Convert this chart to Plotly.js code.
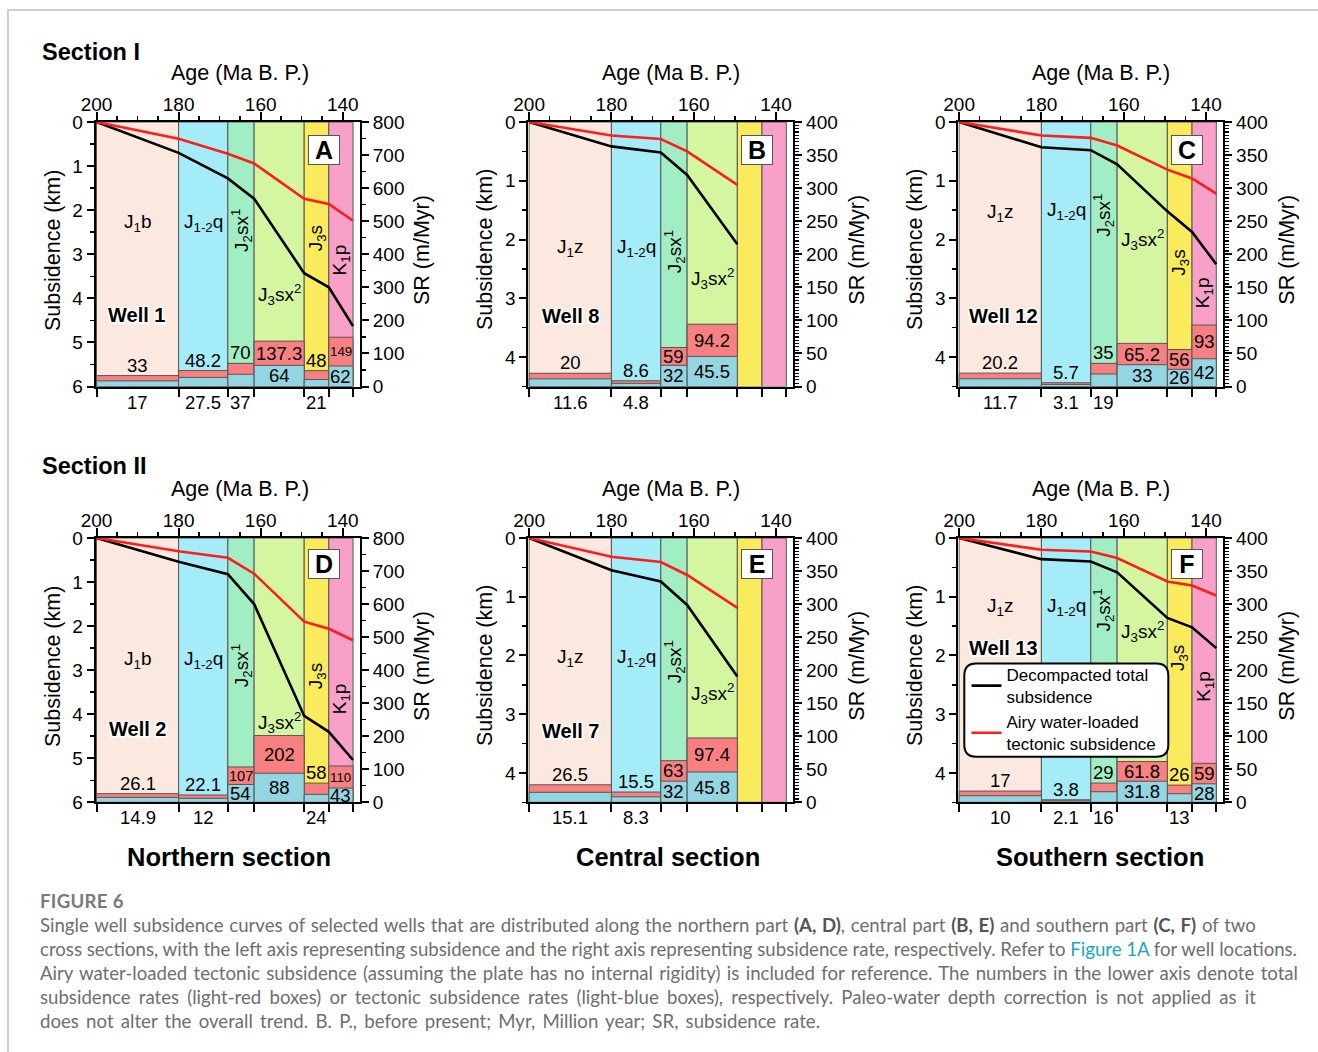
<!DOCTYPE html>
<html>
<head>
<meta charset="utf-8">
<script src="https://cdn.plot.ly/plotly-3.0.1.min.js"></script>
<style>
  body { margin: 0; background: #fff; }
  #frame { position: absolute; left: 7px; top: 9px; width: 1311px; height: 1043px;
           border-top: 2px solid #cfcfcf; border-left: 2px solid #cfcfcf; box-sizing: border-box; }
  #chart { position: absolute; left: 0; top: 0; width: 1318px; height: 1052px; }
  #cap { position: absolute; left: 40px; top: 889px; font-family: "Lato", "Noto Sans", sans-serif;
         color: #6e6e6e; font-size: 16.5px; line-height: 24px; white-space: nowrap; }
  #cap .fig { font-weight: 700; color: #7a7a7a; letter-spacing: 0.3px; }
  #cap b { color: #555; }
  #cap .lnk { color: #1aa6bd; }
</style>
</head>
<body>
<div id="frame"></div>
<div id="chart"></div>
<div id="cap">
  <div class="fig">FIGURE 6</div>
  <div class="ln">Single well subsidence curves of selected wells that are distributed along the northern part <b>(A, D)</b>, central part <b>(B, E)</b> and southern part <b>(C, F)</b> of two</div>
  <div class="ln">cross sections, with the left axis representing subsidence and the right axis representing subsidence rate, respectively. Refer to <span class="lnk">Figure 1A</span> for well locations.</div>
  <div class="ln">Airy water-loaded tectonic subsidence (assuming the plate has no internal rigidity) is included for reference. The numbers in the lower axis denote total</div>
  <div class="ln">subsidence rates (light-red boxes) or tectonic subsidence rates (light-blue boxes), respectively. Paleo-water depth correction is not applied as it</div>
  <div class="ln">does not alter the overall trend. B. P., before present; Myr, Million year; SR, subsidence rate.</div>
</div>
<script>
// ---------------- DATA ----------------
const ageBoundaries = [200, 180, 168, 161.6, 149.4, 143.4, 137.5];
const ageTicks = [200, 180, 160, 140];
const stageNamesNorth = ['J<sub>1</sub>b', 'J<sub>1-2</sub>q', 'J<sub>2</sub>sx<sup>1</sup>', 'J<sub>3</sub>sx<sup>2</sup>', 'J<sub>3</sub>s', 'K<sub>1</sub>p'];
const stageNamesCentral = ['J<sub>1</sub>z', 'J<sub>1-2</sub>q', 'J<sub>2</sub>sx<sup>1</sup>', 'J<sub>3</sub>sx<sup>2</sup>', null, null];
const stageNamesSouth = ['J<sub>1</sub>z', 'J<sub>1-2</sub>q', 'J<sub>2</sub>sx<sup>1</sup>', 'J<sub>3</sub>sx<sup>2</sup>', 'J<sub>3</sub>s', 'K<sub>1</sub>p'];

// Well 1 (A)
const well1Total = [0, 0.70, 1.28, 1.74, 3.43, 3.75, 4.63];
const well1Tectonic = [0, 0.38, 0.72, 0.94, 1.74, 1.86, 2.24];
const well1SRTotal = [33, 48.2, 70, 137.3, 48, 149];
const well1SRTectonic = [17, 27.5, 37, 64, 21, 62];
// Well 8 (B)
const well8Total = [0, 0.415, 0.52, 0.90, 2.08];
const well8Tectonic = [0, 0.23, 0.29, 0.50, 1.07];
const well8SRTotal = [20, 8.6, 59, 94.2, null, null];
const well8SRTectonic = [11.6, 4.8, 32, 45.5, null, null];
// Well 12 (C)
const well12Total = [0, 0.43, 0.48, 0.72, 1.52, 1.87, 2.42];
const well12Tectonic = [0, 0.23, 0.27, 0.40, 0.81, 0.96, 1.22];
const well12SRTotal = [20.2, 5.7, 35, 65.2, 56, 93];
const well12SRTectonic = [11.7, 3.1, 19, 33, 26, 42];
// Well 2 (D)
const well2Total = [0, 0.54, 0.82, 1.50, 4.04, 4.40, 5.04];
const well2Tectonic = [0, 0.30, 0.45, 0.81, 1.90, 2.06, 2.32];
const well2SRTotal = [26.1, 22.1, 107, 202, 58, 110];
const well2SRTectonic = [14.9, 12, 54, 88, 24, 43];
// Well 7 (E)
const well7Total = [0, 0.55, 0.74, 1.14, 2.36];
const well7Tectonic = [0, 0.32, 0.41, 0.63, 1.19];
const well7SRTotal = [26.5, 15.5, 63, 97.4, null, null];
const well7SRTectonic = [15.1, 8.3, 32, 45.8, null, null];
// Well 13 (F)
const well13Total = [0, 0.36, 0.40, 0.585, 1.36, 1.52, 1.875];
const well13Tectonic = [0, 0.20, 0.23, 0.34, 0.74, 0.81, 0.98];
const well13SRTotal = [17, 3.8, 29, 61.8, 26, 59];
const well13SRTectonic = [10, 2.1, 16, 31.8, 13, 28];

const legendNames = ['Decompacted total<br>subsidence', 'Airy water-loaded<br>tectonic subsidence'];

// ---------------- STYLE / LAYOUT CONFIG ----------------
const W = 1318, H = 1052;
const FONT = '"Liberation Sans", Arial, Helvetica, sans-serif';
const stageColors = ['#fbe9df', '#a4ecf8', '#a2eec4', '#d4f6a0', '#faeb5c', '#f9a0c8'];
const rotatedStage = [false, false, true, false, true, true];
const colPx = [[95.7, 360], [528.3, 793.3], [958.3, 1223.3]];
const rowPx = [[122, 386.5], [538, 802.3]];
const xRange = [200.2, 135.8];

const panels = [
  {letter:'A', well:'Well 1', col:0, row:0, names:stageNamesNorth, total:well1Total, tect:well1Tectonic, srT:well1SRTotal, srE:well1SRTectonic,
   ymax:6, srMax:800, srDtick:100, srMinor:50, labelY:[2.29,2.29,2.45,3.92,2.65,3.12], wellPos:[190.3,4.37]},
  {letter:'B', well:'Well 8', col:1, row:0, names:stageNamesCentral, total:well8Total, tect:well8Tectonic, srT:well8SRTotal, srE:well8SRTectonic,
   ymax:4.5, srMax:400, srDtick:50, srMinor:5, labelY:[2.15,2.15,2.2,2.66,0,0], wellPos:[189.9,3.3]},
  {letter:'C', well:'Well 12', col:2, row:0, names:stageNamesSouth, total:well12Total, tect:well12Tectonic, srT:well12SRTotal, srE:well12SRTectonic,
   ymax:4.5, srMax:400, srDtick:50, srMinor:5, labelY:[1.54,1.52,1.58,2.0,2.4,2.91], wellPos:[189.2,3.3]},
  {letter:'D', well:'Well 2', col:0, row:1, names:stageNamesNorth, total:well2Total, tect:well2Tectonic, srT:well2SRTotal, srE:well2SRTectonic,
   ymax:6, srMax:800, srDtick:100, srMinor:50, labelY:[2.77,2.77,2.89,4.19,3.15,3.64], wellPos:[190.1,4.34]},
  {letter:'E', well:'Well 7', col:1, row:1, names:stageNamesCentral, total:well7Total, tect:well7Tectonic, srT:well7SRTotal, srE:well7SRTectonic,
   ymax:4.5, srMax:400, srDtick:50, srMinor:5, labelY:[2.05,2.05,2.1,2.64,0,0], wellPos:[189.9,3.28]},
  {letter:'F', well:'Well 13', col:2, row:1, names:stageNamesSouth, total:well13Total, tect:well13Tectonic, srT:well13SRTotal, srE:well13SRTectonic,
   ymax:4.5, srMax:400, srDtick:50, srMinor:5, labelY:[1.17,1.17,1.22,1.59,2.05,2.53], wellPos:[189.3,1.87]}
];

function axId(l, n) { return l + (n === 1 ? '' : n); }
function axKey(l, n) { return l + 'axis' + (n === 1 ? '' : n); }
function emWidth(t) { let w = 0; for (const c of t) w += (c === '.' ? 0.278 : 0.556); return w; }

const traces = [];
const annotations = [];
const layout = {
  width: W, height: H, margin: {l:0, r:0, t:0, b:0},
  paper_bgcolor: 'rgba(0,0,0,0)', plot_bgcolor: 'rgba(0,0,0,0)',
  barmode: 'overlay', showlegend: true,
  font: {family: FONT, color: '#000', size: 19},
  legend: {x: 966.5/W, xanchor: 'left', y: 1 - 657/H, yanchor: 'top', bgcolor: 'rgba(0,0,0,0)', borderwidth: 0,
           font: {family: FONT, size: 17, color: '#000'}, itemwidth: 30, tracegroupgap: 0, valign: 'middle', traceorder: 'normal'},
  shapes: [], annotations: annotations
};

function addText(o) {
  const base = {showarrow: false, xanchor: 'center', yanchor: 'middle', font: {family: FONT, size: 19, color: '#000'}};
  annotations.push(Object.assign(base, o));
}

const mids = [], durs = [];
for (let j = 0; j < ageBoundaries.length - 1; j++) {
  mids.push((ageBoundaries[j] + ageBoundaries[j+1]) / 2);
  durs.push(ageBoundaries[j] - ageBoundaries[j+1]);
}

panels.forEach((p, i) => {
  const k = i + 1;
  const xa = axId('x', k), ya = axId('y', k), xb = axId('x', k + 6), y2 = axId('y', k + 6);
  const cx = colPx[p.col], ry = rowPx[p.row];
  const plotW = cx[1] - cx[0], plotH = ry[1] - ry[0];
  const pxPerMa = plotW / (xRange[0] - xRange[1]);
  const pxPerSR = plotH / p.srMax;

  // stage columns
  traces.push({type:'bar', xaxis:xa, yaxis:ya, x:mids, y:mids.map(() => p.ymax), width:durs,
    marker:{color:stageColors, line:{color:'#555', width:1}}, hoverinfo:'skip', showlegend:false});
  // SR bars
  traces.push({type:'bar', xaxis:xa, yaxis:y2, x:mids, y:p.srT, width:durs,
    marker:{color:'#f88080', line:{color:'#555', width:1}}, hoverinfo:'skip', showlegend:false});
  traces.push({type:'bar', xaxis:xa, yaxis:y2, x:mids, y:p.srE, width:durs,
    marker:{color:'#93d6e2', line:{color:'#555', width:1}}, hoverinfo:'skip', showlegend:false});
  // subsidence curves
  traces.push({type:'scatter', mode:'lines', xaxis:xa, yaxis:ya, x:ageBoundaries.slice(0, p.total.length), y:p.total,
    line:{color:'#000', width:2.6}, name:legendNames[0], showlegend:k === 6, hoverinfo:'skip'});
  traces.push({type:'scatter', mode:'lines', xaxis:xa, yaxis:ya, x:ageBoundaries.slice(0, p.tect.length), y:p.tect,
    line:{color:'#ff1c1c', width:2.6}, name:legendNames[1], showlegend:k === 6, hoverinfo:'skip'});
  // anchor trace for bottom axis
  traces.push({type:'scatter', mode:'markers', xaxis:xb, yaxis:ya, x:[200], y:[0], marker:{opacity:0}, hoverinfo:'skip', showlegend:false});

  const tickCommon = {ticks:'outside', tickwidth:2, tickcolor:'#000', showline:true, linewidth:2, linecolor:'#000',
    showgrid:false, zeroline:false, tickfont:{family:FONT, size:19, color:'#000'}, fixedrange:true};

  layout[axKey('x', k)] = Object.assign({}, tickCommon, {domain:[cx[0]/W, cx[1]/W], range:xRange, anchor:ya, side:'top',
    tickmode:'array', tickvals:ageTicks, ticklen:8, ticklabelstandoff:-7,
    minor:{dtick:5, tick0:200, ticks:'outside', ticklen:4, tickwidth:1.5, tickcolor:'#000'}});
  layout[axKey('x', k + 6)] = Object.assign({}, tickCommon, {overlaying:xa, side:'bottom', anchor:ya, range:xRange,
    tickmode:'array', tickvals:ageBoundaries, ticklen:8, showticklabels:false});
  layout[axKey('y', k)] = Object.assign({}, tickCommon, {domain:[1 - ry[1]/H, 1 - ry[0]/H], range:[p.ymax, 0], anchor:xa, side:'left',
    tickmode:'linear', tick0:0, dtick:1, ticklen:7,
    minor:{dtick:0.5, tick0:0, ticks:'outside', ticklen:4, tickwidth:1.5, tickcolor:'#000'}});
  layout[axKey('y', k + 6)] = Object.assign({}, tickCommon, {overlaying:ya, side:'right', anchor:xa, range:[0, p.srMax],
    tickmode:'linear', tick0:0, dtick:p.srDtick, ticklen:7,
    minor:{dtick:p.srMinor, tick0:0, ticks:'outside', ticklen:4, tickwidth:1.2, tickcolor:'#000'}});

  // stage labels
  p.names.forEach((nm, j) => {
    if (!nm) return;
    addText({xref:xa, yref:ya, x:mids[j], y:p.labelY[j], text:nm, textangle:rotatedStage[j] ? -90 : 0});
  });
  // well label
  addText({xref:xa, yref:ya, x:p.wellPos[0], y:p.wellPos[1], text:'<b>' + p.well + '</b>',
    font:{family:FONT, size:20, color:'#000', shadow:'1.5px 1.5px 0 #fff, -1.5px -1.5px 0 #fff, 1.5px -1.5px 0 #fff, -1.5px 1.5px 0 #fff'}});
  // panel letter
  addText({xref:xa + ' domain', yref:ya + ' domain', x:0.862, y:p.row === 0 ? 0.894 : 0.902, text:'<b>' + p.letter + '</b>',
    font:{family:FONT, size:25, color:'#000'}, bgcolor:'#fff', bordercolor:'#555', borderwidth:1, borderpad:1, width:28, height:26});

  // SR labels
  for (let j = 0; j < mids.length; j++) {
    const t = p.srT[j], e = p.srE[j];
    if (t == null) continue;
    const colW = durs[j] * pxPerMa;
    const fit = (s) => Math.min(18.5, (colW - 2) / emWidth(s));
    const ts = String(t), es = String(e);
    if ((t - e) * pxPerSR >= 15) {
      addText({xref:xa, yref:y2, x:mids[j], y:(t + e) / 2, text:ts, font:{family:FONT, size:fit(ts), color:'#000'}});
    } else {
      addText({xref:xa, yref:y2, x:mids[j], y:t, yanchor:'bottom', yshift:-2, text:ts, font:{family:FONT, size:fit(ts), color:'#000'}});
    }
    if (e * pxPerSR >= 13.5) {
      addText({xref:xa, yref:y2, x:mids[j], y:e / 2, text:es, font:{family:FONT, size:fit(es), color:'#000'}});
    } else {
      addText({xref:xa, yref:y2, x:mids[j], y:0, yanchor:'top', yshift:-3, text:es, font:{family:FONT, size:18.5, color:'#000'}});
    }
  }
});

// axis titles & headings (paper pixel positions)
function paperText(px, py, text, opts) {
  addText(Object.assign({xref:'paper', yref:'paper', x:px / W, y:1 - py / H, text:text}, opts || {}));
}
const ageTitleX = [240, 671, 1101], subTitleX = [53, 485, 915], srTitleX = [422, 856.7, 1286.7];
const ageTitleY = [73, 489.3], sideTitleY = [250, 666];
for (let r = 0; r < 2; r++) {
  for (let c = 0; c < 3; c++) {
    paperText(ageTitleX[c], ageTitleY[r], 'Age (Ma B. P.)', {font:{family:FONT, size:21.5, color:'#000'}});
    paperText(subTitleX[c], sideTitleY[r], 'Subsidence (km)', {textangle:-90, font:{family:FONT, size:21.5, color:'#000'}});
    paperText(srTitleX[c], sideTitleY[r], 'SR (m/Myr)', {textangle:-90, font:{family:FONT, size:21.5, color:'#000'}});
  }
}
paperText(40, 52, '<b>Section I</b>', {xanchor:'left', font:{family:FONT, size:23.5, color:'#000'}});
paperText(40, 466, '<b>Section II</b>', {xanchor:'left', font:{family:FONT, size:23.5, color:'#000'}});
paperText(229, 857, '<b>Northern section</b>', {font:{family:FONT, size:25.5, color:'#000'}});
paperText(668, 857, '<b>Central section</b>', {font:{family:FONT, size:25.5, color:'#000'}});
paperText(1099.5, 857, '<b>Southern section</b>', {font:{family:FONT, size:25.5, color:'#000'}});

// rounded legend box
(function () {
  const x0 = 964.3, x1 = 1168.3, y0 = 663.5, y1 = 756.7, r = 12;
  const X = (v) => (v / W).toFixed(5), Y = (v) => (1 - v / H).toFixed(5);
  const d = `M${X(x0 + r)},${Y(y0)} L${X(x1 - r)},${Y(y0)} Q${X(x1)},${Y(y0)} ${X(x1)},${Y(y0 + r)} ` +
            `L${X(x1)},${Y(y1 - r)} Q${X(x1)},${Y(y1)} ${X(x1 - r)},${Y(y1)} L${X(x0 + r)},${Y(y1)} ` +
            `Q${X(x0)},${Y(y1)} ${X(x0)},${Y(y1 - r)} L${X(x0)},${Y(y0 + r)} Q${X(x0)},${Y(y0)} ${X(x0 + r)},${Y(y0)} Z`;
  layout.shapes.push({type:'path', xref:'paper', yref:'paper', path:d, fillcolor:'#fff', line:{color:'#000', width:2}, layer:'above'});
})();

Plotly.newPlot('chart', traces, layout, {staticPlot:true, displayModeBar:false});

// fit caption lines to the reference line lengths
(document.fonts ? document.fonts.ready : Promise.resolve()).then(() => {
  const cap = document.getElementById('cap');
  const lines = Array.from(cap.querySelectorAll('.ln'));
  const targets = [1216, 1257, 1258, 1216, 780];
  const spans = lines.map((ln) => { const s = document.createElement('span'); s.innerHTML = ln.innerHTML; ln.innerHTML = ''; ln.appendChild(s); return s; });
  const w2 = spans[1].getBoundingClientRect().width;
  if (w2 > 0) cap.style.fontSize = (16.5 * targets[1] / w2).toFixed(2) + 'px';
  spans.forEach((s, i) => {
    const w = s.getBoundingClientRect().width;
    const nSpaces = (s.textContent.match(/ /g) || []).length;
    if (nSpaces > 0 && w > 0) s.style.wordSpacing = ((targets[i] - w) / nSpaces).toFixed(2) + 'px';
  });
});
</script>
</body>
</html>
